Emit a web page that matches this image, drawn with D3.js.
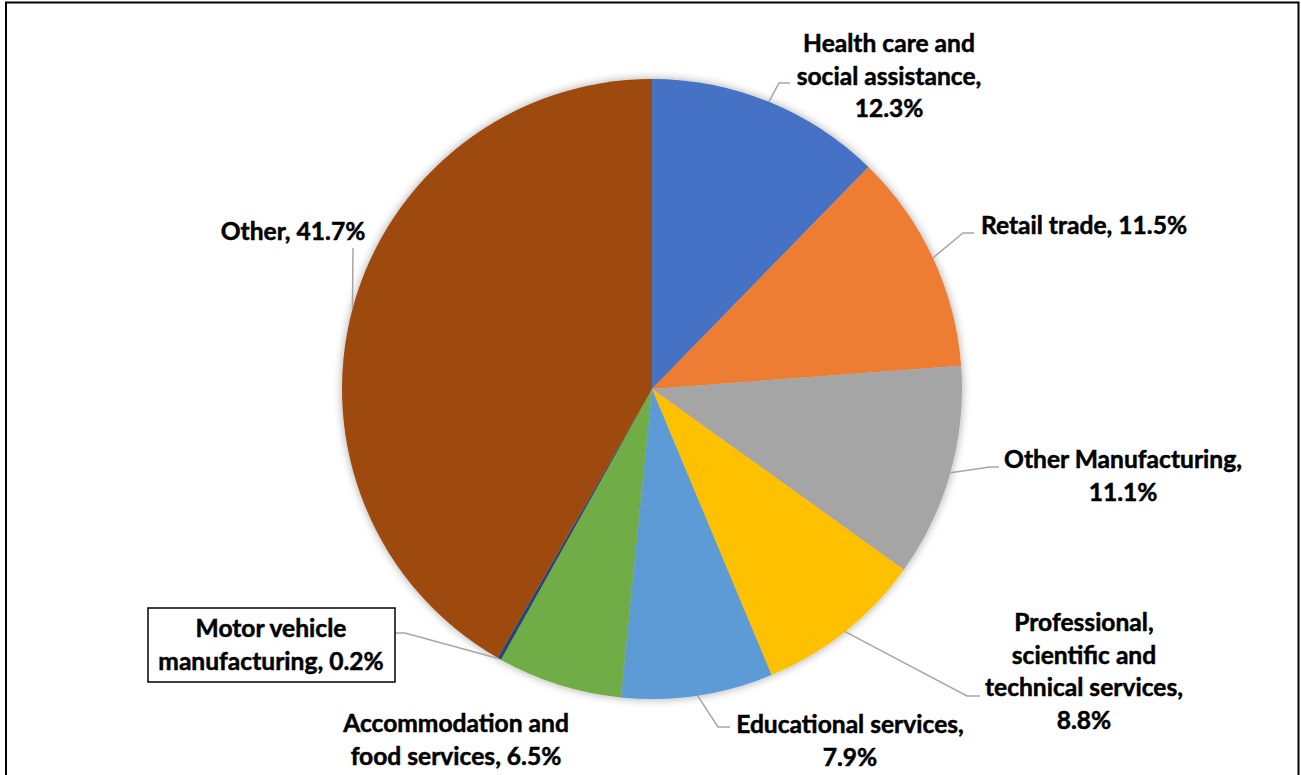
<!DOCTYPE html>
<html>
<head>
<meta charset="utf-8">
<script src="https://cdn.jsdelivr.net/npm/d3@7"></script>
<style>
  html, body { margin: 0; padding: 0; background: #fff; }
  svg { display: block; }
</style>
</head>
<body>
<svg id="chart" width="1301" height="775"></svg>
<script>
// Share of employment by industry
const categories = [
  "Health care and social assistance",
  "Retail trade",
  "Other Manufacturing",
  "Professional, scientific and technical services",
  "Educational services",
  "Accommodation and food services",
  "Motor vehicle manufacturing",
  "Other"
];
const shares = [12.3, 11.5, 11.1, 8.8, 7.9, 6.5, 0.2, 41.7];
const colors = ["#4472C4", "#ED7D31", "#A5A5A5", "#FFC000", "#5B9BD5", "#70AD47", "#264478", "#9E480E"];

// Label placement: text centre x, first baseline y, words per line,
// leader elbow and leader end point, optional box.
const labelLayout = [
  { x: 889,  y: 52,  words: [3, 2, 1], elbow: [779, 83],  end: [790, 83] },
  { x: 1084, y: 234, words: [4],       elbow: [963, 233], end: [974, 233] },
  { x: 1123, y: 468, words: [2, 1],    elbow: [990, 467], end: [999, 467] },
  { x: 1084, y: 631, words: [1, 2, 2, 1], elbow: [967, 696], end: [980, 696] },
  { x: 850,  y: 733, words: [2, 1],    elbow: [718, 727], end: [730, 727] },
  { x: 456,  y: 732, words: [2, 3],    elbow: null,       end: null },
  { x: 271,  y: 637, words: [2, 2],    elbow: [405, 633], end: [395, 633], box: [148, 608, 247, 74] },
  { x: 293,  y: 240, words: [2],       elbow: [353, 248], end: [353, 248] }
];

const svg = d3.select("#chart");
const cx = 652, cy = 389, R = 310;
const lineH = 32.5;
const fontFamily = "Lato, 'Open Sans', 'Liberation Sans', sans-serif";

// Pick a font size whose bold text width matches the intended label width
const probe = svg.append("text")
  .attr("font-family", fontFamily).attr("font-weight", 700)
  .attr("font-size", 100).text("Other Manufacturing,");
const probeW = probe.node().getComputedTextLength();
probe.remove();
const fontSize = Math.min(28, 100 * 238 / probeW);

// Chart frame
svg.append("rect")
  .attr("x", 6).attr("y", 2.5).attr("width", 1292.5).attr("height", 900)
  .attr("fill", "#fff").attr("stroke", "#000").attr("stroke-width", 2);

// Soft shadow around the pie
const defs = svg.append("defs");
const f = defs.append("filter").attr("id", "pieShadow")
  .attr("x", "-10%").attr("y", "-10%").attr("width", "120%").attr("height", "120%");
f.append("feGaussianBlur").attr("in", "SourceAlpha").attr("stdDeviation", 5).attr("result", "b");
f.append("feComponentTransfer").attr("in", "b").attr("result", "s")
  .append("feFuncA").attr("type", "linear").attr("slope", 0.35);
const m = f.append("feMerge");
m.append("feMergeNode").attr("in", "s");
m.append("feMergeNode").attr("in", "SourceGraphic");

const data = categories.map((c, i) => ({ name: c, value: shares[i], color: colors[i], layout: labelLayout[i] }));

const pie = d3.pie().value(d => d.value).sort(null).startAngle(0).endAngle(2 * Math.PI);
const arcs = pie(data);
const arc = d3.arc().innerRadius(0).outerRadius(R);

const g = svg.append("g").attr("transform", `translate(${cx},${cy})`);
g.append("g").attr("filter", "url(#pieShadow)")
  .selectAll("path").data(arcs).join("path")
  .attr("d", arc)
  .attr("fill", d => d.data.color);

// Leader lines from each slice's outer midpoint
const leaders = svg.append("g");
arcs.forEach(a => {
  const L = a.data.layout;
  if (!L.elbow) return;
  const mid = (a.startAngle + a.endAngle) / 2;
  const sx = cx + R * Math.sin(mid), sy = cy - R * Math.cos(mid);
  leaders.append("polyline")
    .attr("points", [[sx, sy], L.elbow, L.end].map(p => p.join(",")).join(" "))
    .attr("fill", "none").attr("stroke", "#A6A6A6").attr("stroke-width", 1.5);
});

// Labels
const labels = svg.append("g")
  .attr("font-family", fontFamily).attr("font-weight", 700)
  .attr("font-size", fontSize).attr("fill", "#000")
  .attr("stroke", "#000").attr("stroke-width", 0.5)
  .attr("text-anchor", "middle");

arcs.forEach(a => {
  const L = a.data.layout;
  const words = `${a.data.name}, ${a.data.value.toFixed(1)}%`.split(" ");
  const lines = [];
  let k = 0;
  L.words.forEach(n => { lines.push(words.slice(k, k + n).join(" ")); k += n; });
  if (L.box) {
    labels.append("rect")
      .attr("x", L.box[0]).attr("y", L.box[1]).attr("width", L.box[2]).attr("height", L.box[3])
      .attr("fill", "#fff").attr("stroke", "#000").attr("stroke-width", 1.5);
  }
  const t = labels.append("text").attr("x", L.x).attr("y", L.y);
  lines.forEach((ln, i) => {
    t.append("tspan").attr("x", L.x).attr("y", L.y + i * lineH).text(ln);
  });
});
</script>
</body>
</html>
